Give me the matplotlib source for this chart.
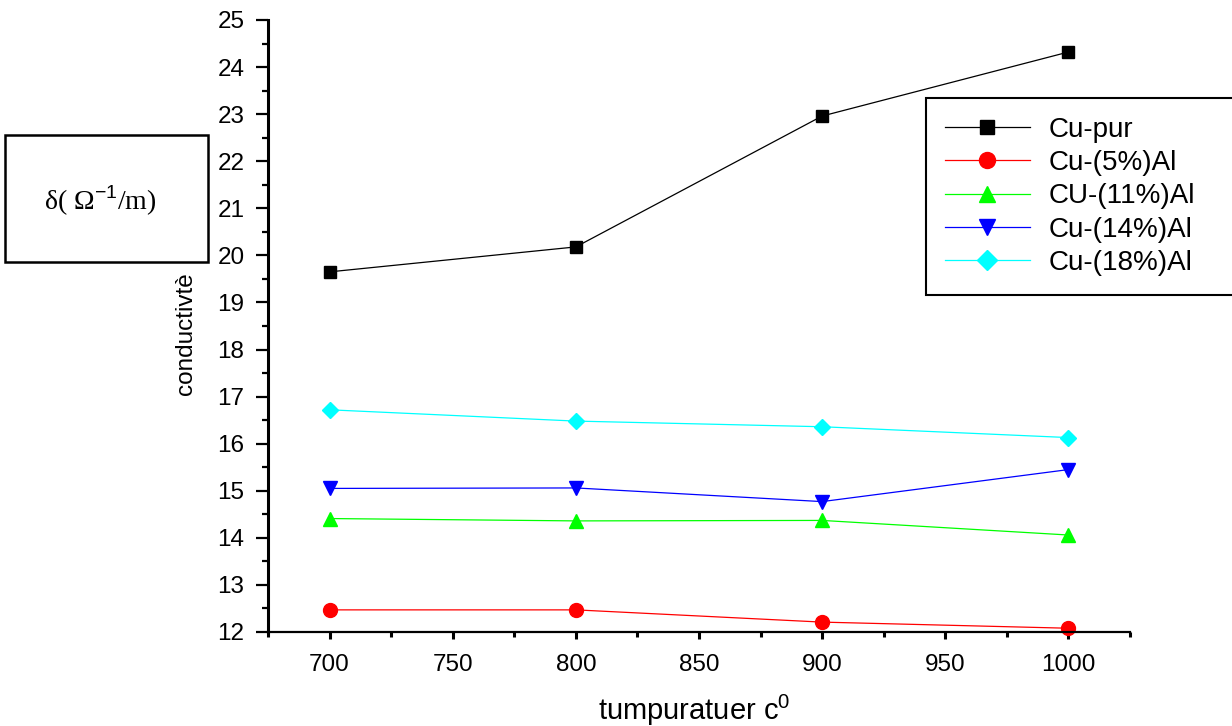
import matplotlib.pyplot as plt
from matplotlib.patches import Rectangle
from matplotlib.ticker import MultipleLocator

plt.rcParams["font.family"] = ["Liberation Sans", "DejaVu Sans"]
plt.rcParams["mathtext.fontset"] = "custom"
plt.rcParams["mathtext.rm"] = "Liberation Sans"

# temperature (x) and conductivity of each alloy
temperature = [700, 800, 900, 1000]
cu_pur = [19.65, 20.18, 22.96, 24.32]
cu_5al = [12.47, 12.47, 12.21, 12.08]
cu_11al = [14.41, 14.36, 14.37, 14.06]
cu_14al = [15.05, 15.06, 14.77, 15.45]
cu_18al = [16.72, 16.48, 16.36, 16.13]

series = [
    ("Cu-pur", cu_pur, "black", "s", 9),
    ("Cu-(5%)Al", cu_5al, "red", "o", 10),
    ("CU-(11%)Al", cu_11al, "#00ff00", "^", 10.5),
    ("Cu-(14%)Al", cu_14al, "blue", "v", 10.5),
    ("Cu-(18%)Al", cu_18al, "cyan", "D", 8.5),
]

fig = plt.figure(figsize=(12.32, 7.26), dpi=100)
ax = fig.add_axes([268 / 1232, 1 - 632 / 726, (1130 - 268) / 1232, (632 - 20) / 726])

for label, values, color, marker, ms in series:
    ax.plot(temperature, values, color=color, marker=marker, markersize=ms,
            linewidth=0.9, label=label, clip_on=False)

ax.set_xlim(675, 1025)
ax.set_ylim(12, 25)
ax.xaxis.set_major_locator(MultipleLocator(50))
ax.xaxis.set_minor_locator(MultipleLocator(25))
ax.yaxis.set_major_locator(MultipleLocator(1))
ax.yaxis.set_minor_locator(MultipleLocator(0.5))

for side in ["top", "right"]:
    ax.spines[side].set_visible(False)
ax.spines["left"].set_linewidth(2.2)
ax.spines["bottom"].set_linewidth(1.6)
ax.tick_params(axis="y", which="major", direction="out", length=9, width=1.6,
               labelsize=17.5, pad=8)
ax.tick_params(axis="y", which="minor", direction="out", length=4.5, width=1.6)
ax.tick_params(axis="x", which="major", direction="out", length=5, width=2.2,
               labelsize=17.5, pad=10.5)
ax.tick_params(axis="x", which="minor", direction="out", length=3.5, width=2.2)

ax.set_xlabel("tumpuratuer c$^0$", fontsize=21)
ax.xaxis.set_label_coords(0.495, -0.1)
ax.set_ylabel("conductivtè", fontsize=17.5)
ax.yaxis.set_label_coords(-0.082, 0.487)

leg = ax.legend(loc="upper left",
                bbox_to_anchor=(926 / 1232, 0.5, 330 / 1232, 0.5 - 98 / 726),
                bbox_transform=fig.transFigure, mode="expand", borderaxespad=0,
                fontsize=20, fancybox=False, edgecolor="black", framealpha=1,
                handlelength=3.05, handletextpad=0.7, labelspacing=0.26,
                borderpad=0.68, markerscale=1.15)
leg.get_frame().set_linewidth(1.5)

# boxed unit note on the left
fig.patches.append(Rectangle((5 / 1232, 1 - 262 / 726), 203 / 1232, 127 / 726,
                             transform=fig.transFigure, fill=False,
                             edgecolor="black", linewidth=1.8))
fig.text(100 / 1232, 1 - 201 / 726, "δ( Ω$^{-1}$/m)", ha="center", va="center",
         fontsize=20, family=["Liberation Serif", "DejaVu Serif"])

fig.savefig("out.png", dpi=100)
